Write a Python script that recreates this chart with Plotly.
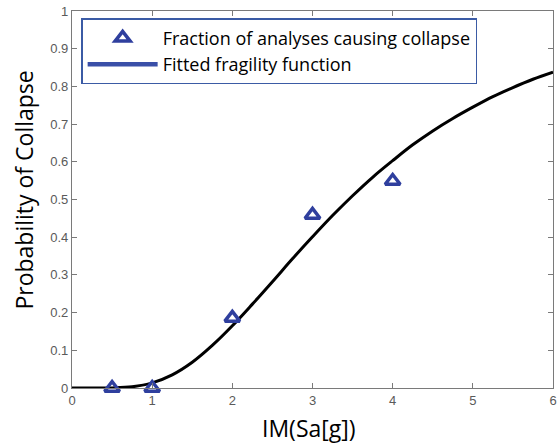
import plotly.graph_objects as go

# Observed fractions
im_obs = [0.5, 1, 2, 3, 4]
frac_obs = [0.0, 0.0, 0.186, 0.459, 0.549]

# Fitted fragility curve
im_fit = [0, 0.25, 0.5, 0.75, 1.0, 1.25, 1.5, 1.75, 2.0, 2.25, 2.5, 2.75, 3.0,
          3.25, 3.5, 3.75, 4.0, 4.25, 4.5, 4.75, 5.0, 5.25, 5.5, 5.75, 6.0]
p_fit = [0.0, 0.0, 0.0003, 0.0032, 0.0135, 0.0348, 0.0682, 0.1128, 0.165, 0.2225,
         0.282, 0.3427, 0.401, 0.4574, 0.510, 0.559, 0.603, 0.645, 0.682, 0.715,
         0.745, 0.773, 0.797, 0.819, 0.838]

x_ticks = [0, 1, 2, 3, 4, 5, 6]
y_ticks = [0, 0.1, 0.2, 0.3, 0.4, 0.5, 0.6, 0.7, 0.8, 0.9, 1]
y_labels = ["0", "0.1", "0.2", "0.3", "0.4", "0.5", "0.6", "0.7", "0.8", "0.9", "1"]

blue = "#2f3f9e"

fig = go.Figure()
fig.add_trace(go.Scatter(
    x=im_fit, y=p_fit, mode="lines", line=dict(color="black", width=3, shape="spline"),
    showlegend=False, hoverinfo="skip"))
fig.add_trace(go.Scatter(
    x=im_obs, y=frac_obs, mode="markers",
    marker=dict(symbol="triangle-up-open", size=13, color=blue, line=dict(width=3.5, color=blue)),
    name="Fraction of analyses causing collapse", cliponaxis=False))
fig.add_trace(go.Scatter(
    x=[None], y=[None], mode="lines", line=dict(color="#3a4fa8", width=4.5),
    name="Fitted fragility function"))

axis_common = dict(
    showgrid=False, zeroline=False, showline=True, linecolor="#7a7a7a", linewidth=1.2,
    mirror="ticks", ticks="inside", ticklen=5, tickcolor="#7a7a7a", automargin=False,
    tickfont=dict(family="Liberation Sans, Arial", size=13, color="#5a5a5a"),
)

fig.update_layout(
    width=557, height=444,
    margin=dict(l=72, r=4, t=11, b=56),
    paper_bgcolor="white", plot_bgcolor="white",
    xaxis=dict(range=[0, 6], tickvals=x_ticks, **axis_common),
    yaxis=dict(range=[0, 1], tickvals=y_ticks, ticktext=y_labels, **axis_common),
    legend=dict(x=0.019, y=0.981, xanchor="left", yanchor="top",
                bgcolor="white", bordercolor="#3b5ba5", borderwidth=1.5,
                font=dict(family="Open Sans", size=18, color="black"),
                tracegroupgap=0, itemwidth=70),
    showlegend=True,
    annotations=[
        dict(text="IM(Sa[g])", xref="paper", yref="paper", x=0.493, y=-0.106,
             xanchor="center", yanchor="middle", showarrow=False,
             font=dict(family="Open Sans", size=23, color="black")),
        dict(text="Probability of Collapse", xref="paper", yref="paper", x=-0.100, y=0.526,
             xanchor="center", yanchor="middle", showarrow=False, textangle=-90,
             font=dict(family="Open Sans", size=23, color="black")),
    ],
)

fig.write_html("out.html")
